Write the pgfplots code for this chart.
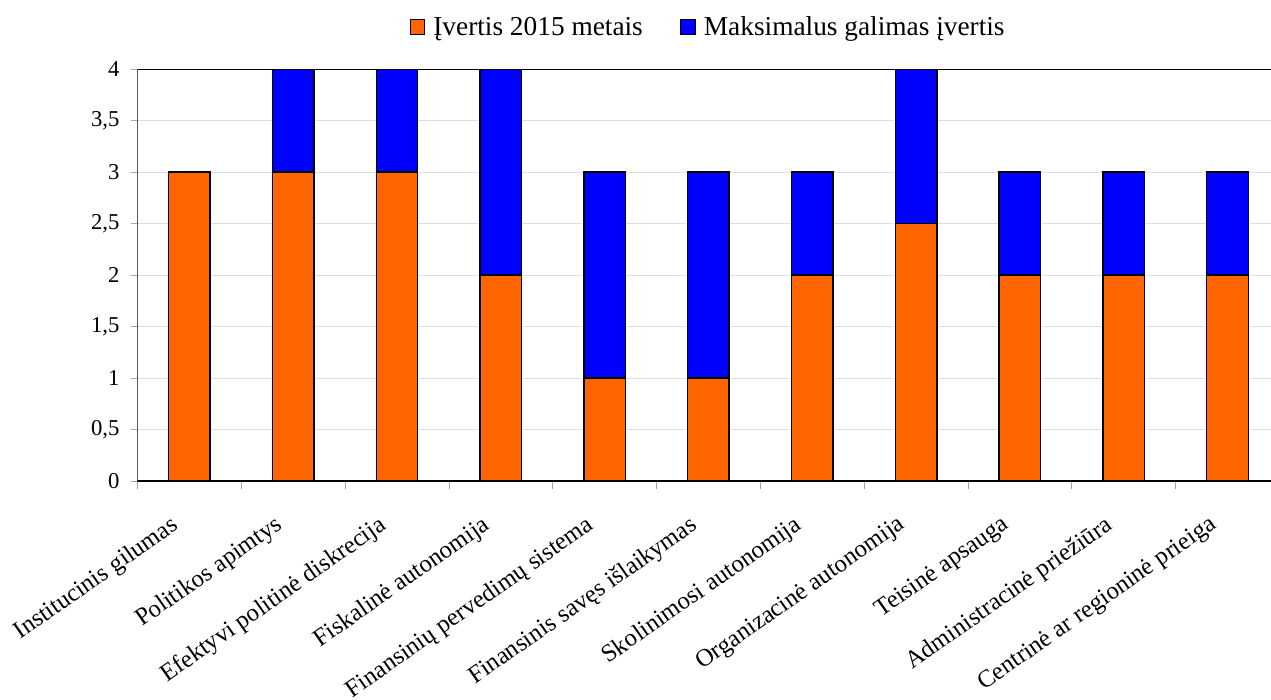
\documentclass[border=0pt]{standalone}
\usepackage{pgfplots}
\pgfplotsset{compat=1.18}
\usepackage{fontspec}
\setmainfont{Liberation Serif}
\definecolor{cOrange}{HTML}{FF6600}
\definecolor{cBlue}{HTML}{0000FF}
\pgfplotstableread{
x a b
0 3 0
1 3 1
2 3 1
3 2 2
4 1 2
5 1 2
6 2 1
7 2.5 1.5
8 2 1
9 2 1
10 2 1
}\datatable
\begin{document}
\begin{tikzpicture}
\useasboundingbox (-103.1pt,-163.5pt) rectangle (850.1pt,360.75pt);
\begin{axis}[
  scale only axis,
  width=856.4pt, height=309pt,
  ybar stacked, bar width=0.4,
  xmin=-0.5, xmax=10.5, ymin=0, ymax=4,
  axis line style={draw=none},
  xtick={0,...,10},
  xticklabels={Institucinis gilumas, Politikos apimtys, Efektyvi politinė diskrecija, Fiskalinė autonomija, Finansinių pervedimų sistema, Finansinis savęs išlaikymas, Skolinimosi autonomija, Organizacinė autonomija, Teisinė apsauga, Administracinė priežiūra, Centrinė ar regioninė prieiga},
  minor xtick={-0.5,0.5,...,10.5},
  major x tick style={draw=none},
  minor x tick style={draw=gray!70, line width=0.6pt},
  minor tick length=6pt,
  ytick={0,0.5,...,4},
  y tick style={draw=gray!70, line width=0.6pt},
  major tick length=5pt,
  tick align=outside,
  xtick pos=bottom, ytick pos=left,
  ymajorgrids, grid style={draw=gray!25, line width=0.6pt},
  /pgf/number format/use comma,
  /pgf/number format/assume math mode=true,
  yticklabel style={font=\fontsize{17}{20}\selectfont, xshift=-5pt},
  xticklabel style={font=\fontsize{18.5}{22}\selectfont, yshift=-15pt, xshift=-14pt, rotate=35, anchor=north east},
  legend style={at={(axis description cs:0.5,1)}, anchor=center, yshift=31.5pt, draw=none, font=\fontsize{20.5}{24}\selectfont, legend columns=2, /tikz/every odd column/.append style={column sep=4pt}, /tikz/every even column/.append style={column sep=26pt}},
  legend image code/.code={\draw[#1, draw=black, line width=0.8pt] (0pt,-5.5pt) rectangle (11pt,5.5pt);},
  every axis plot/.append style={draw=black, line width=1.1pt},
]
\addplot[fill=cOrange] table[x=x, y=a] {\datatable};
\addplot[fill=cBlue] table[x=x, y=b] {\datatable};
\legend{Įvertis 2015 metais, Maksimalus galimas įvertis}
\draw[black, line width=1.1pt] (rel axis cs:0,0) -- (rel axis cs:0,1) -- (rel axis cs:1,1);
\draw[black, line width=1.1pt] (rel axis cs:0,0) -- (rel axis cs:1,0);
\end{axis}
\end{tikzpicture}
\end{document}
